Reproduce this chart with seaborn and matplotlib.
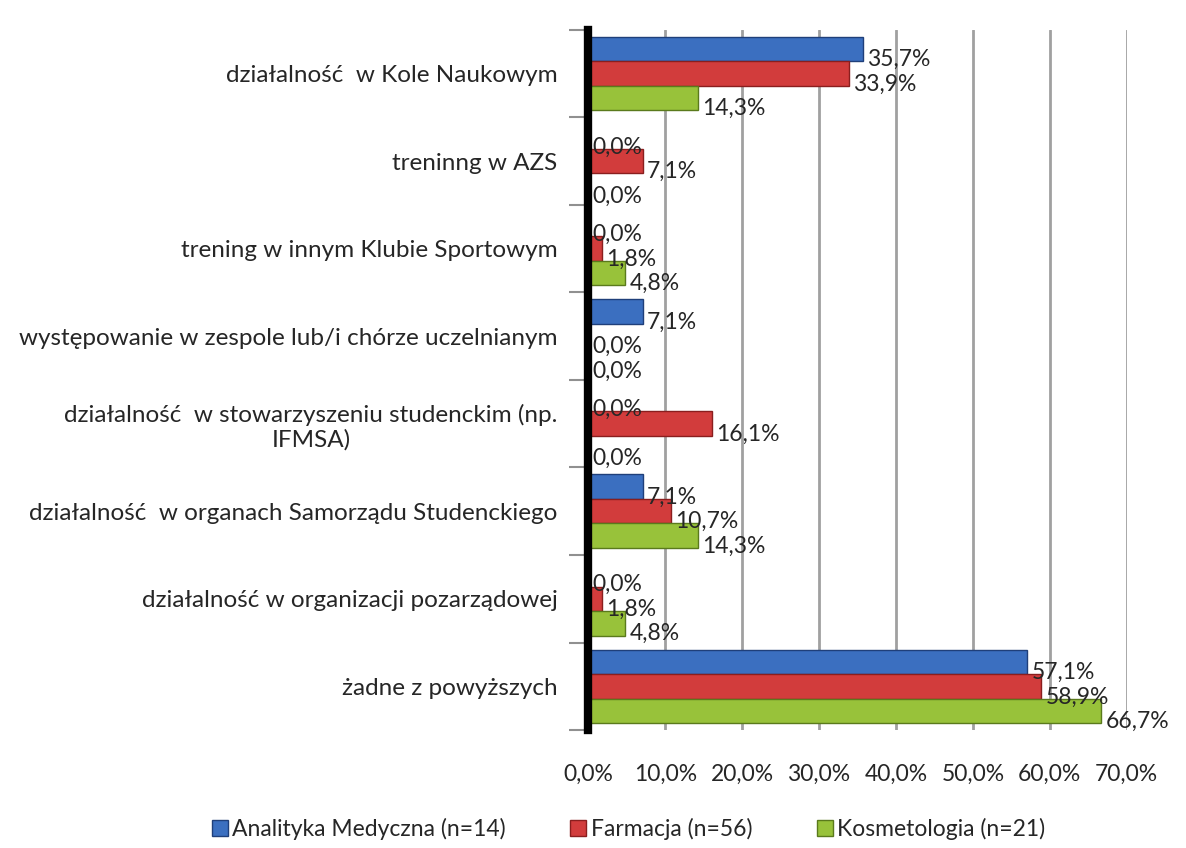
import matplotlib
matplotlib.use("Agg")
import matplotlib.pyplot as plt
import numpy as np
import pandas as pd
import seaborn as sns
from matplotlib.patches import Patch

categories = [
    "działalność  w Kole Naukowym",
    "treninng w AZS",
    "trening w innym Klubie Sportowym",
    "występowanie w zespole lub/i chórze uczelnianym",
    "działalność  w stowarzyszeniu studenckim (np.\nIFMSA)",
    "działalność  w organach Samorządu Studenckiego",
    "działalność w organizacji pozarządowej",
    "żadne z powyższych",
]
series = ["Analityka Medyczna (n=14)", "Farmacja (n=56)", "Kosmetologia (n=21)"]
analityka = [35.7, 0.0, 0.0, 7.1, 0.0, 7.1, 0.0, 57.1]
farmacja = [33.9, 7.1, 1.8, 0.0, 16.1, 10.7, 1.8, 58.9]
kosmetologia = [14.3, 0.0, 4.8, 0.0, 0.0, 14.3, 4.8, 66.7]
colors = ["#3b6fc0", "#d23c3c", "#98c23a"]
edges = ["#1f3f7a", "#8a1e1e", "#5a7a1c"]

df = pd.DataFrame({
    "kategoria": categories * 3,
    "seria": np.repeat(series, len(categories)),
    "wartosc": analityka + farmacja + kosmetologia,
})

sns.set_style("white")
plt.rcParams["font.family"] = ["Lato", "DejaVu Sans"]
FS = 16.5

fig = plt.figure(figsize=(11.86, 8.48), dpi=100)
ax = fig.add_axes([0.496, 0.139, 0.454, 0.826])

sns.barplot(data=df, y="kategoria", x="wartosc", hue="seria", order=categories,
            hue_order=series, palette=colors, orient="h", width=0.84,
            ax=ax, legend=False, saturation=1)

for cont, ec in zip(ax.containers, edges):
    for bar in cont:
        bar.set_edgecolor(ec)
        bar.set_linewidth(1.0)
    texts = ax.bar_label(cont, labels=[f"{v:.1f}%".replace(".", ",") for v in cont.datavalues],
                         padding=3, fontsize=FS)
    for t in texts:
        t.set_va("top")

ax.set_xlim(0, 70)
ax.set_xticks(np.arange(0, 71, 10))
ax.set_xticklabels([f"{t:.1f}%".replace(".", ",") for t in np.arange(0, 71, 10)], fontsize=FS)
ax.tick_params(axis="x", pad=24, length=0)
ax.set_yticks(np.arange(-0.5, len(categories), 1), minor=True)
ax.tick_params(axis="y", which="major", labelsize=17.5, length=0, pad=22)
ax.tick_params(axis="y", which="minor", length=14, width=1.5, color="#909090", left=True)
for lbl in ax.get_yticklabels():
    lbl.set_horizontalalignment("right")
    lbl.set_multialignment("center")
ax.set_xlabel("")
ax.set_ylabel("")
ax.xaxis.grid(True, color="#a0a0a0", linewidth=2)
ax.set_axisbelow(True)
for s in ["top", "right", "bottom"]:
    ax.spines[s].set_visible(False)
ax.spines["left"].set_color("black")
ax.spines["left"].set_linewidth(6)

handles = [Patch(facecolor=c, edgecolor=e, label=s) for c, e, s in zip(colors, edges, series)]
fig.legend(handles=handles, loc="lower center", bbox_to_anchor=(0.53, -0.015), ncol=3,
           frameon=False, fontsize=FS, handlelength=0.7, handleheight=0.7,
           handletextpad=0.2, columnspacing=2.8)

fig.savefig("out.png", dpi=100)
